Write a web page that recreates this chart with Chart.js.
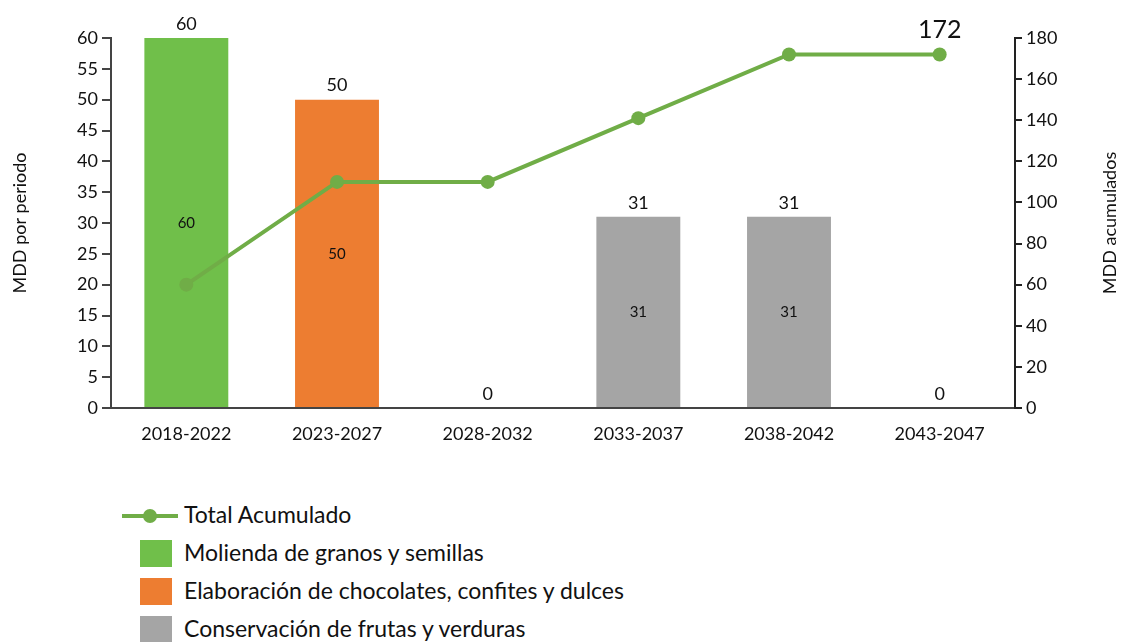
<!DOCTYPE html>
<html>
<head>
<meta charset="utf-8">
<script src="https://cdn.jsdelivr.net/npm/chart.js@4/dist/chart.umd.min.js"></script>
<style>
  html, body { margin: 0; padding: 0; background: #fff; }
  #wrap { position: relative; width: 1127px; height: 642px; font-family: Lato, "Open Sans", sans-serif; }
  #chartBox { position: absolute; left: 0; top: 0; width: 1127px; height: 470px; }
  #legend { position: absolute; left: 0; top: 497px; }
  .item { position: absolute; left: 0; height: 38px; white-space: nowrap; font-size: 23px; color: #111; }
  .item span.txt { position: absolute; left: 184px; top: 3px; }
  .sw { position: absolute; left: 140px; top: 5px; width: 32px; height: 27px; }
  .ln { position: absolute; left: 122px; top: 17px; width: 56px; height: 4px; background: #70AD47; }
  .dot { position: absolute; left: 143px; top: 12px; width: 14px; height: 14px; border-radius: 50%; background: #70AD47; }
</style>
</head>
<body>
<div id="wrap">
  <div id="chartBox"><canvas id="c" width="1127" height="470"></canvas></div>
  <div id="legend"></div>
</div>
<script>
// Periods and investment per sector (MDD)
const periods = ['2018-2022', '2023-2027', '2028-2032', '2033-2037', '2038-2042', '2043-2047'];
const molienda = [60, 0, 0, 0, 0, 0];
const chocolates = [0, 50, 0, 0, 0, 0];
const conservacion = [0, 0, 0, 31, 31, 0];
const acumulado = [60, 110, 110, 141, 172, 172];

const seriesNames = {
  total: 'Total Acumulado',
  molienda: 'Molienda de granos y semillas',
  chocolates: 'Elaboración de chocolates, confites y dulces',
  conservacion: 'Conservación de frutas y verduras'
};
const leftTitle = 'MDD por periodo';
const rightTitle = 'MDD acumulados';

const GREEN = '#70BF4A';
const ORANGE = '#ED7D31';
const GRAY = '#A5A5A5';
const LINE = '#70AD47';
const FONT = 'Lato, "Open Sans", sans-serif';

// Value labels: totals above each column, segment values centred inside,
// the final cumulative value above the last point, and the right axis title
// (rotated to read bottom-to-top like the left one).
const valueLabels = {
  id: 'valueLabels',
  afterDatasetsDraw(chart) {
    const ctx = chart.ctx;
    const y = chart.scales.y;
    const x = chart.scales.x;
    const y1 = chart.scales.y1;
    const barSets = [molienda, chocolates, conservacion];
    ctx.save();
    ctx.textAlign = 'center';
    ctx.fillStyle = '#111';
    periods.forEach((p, i) => {
      const total = barSets.reduce((s, arr) => s + arr[i], 0);
      const cx = x.getPixelForValue(i);
      ctx.font = '18px ' + FONT;
      ctx.textBaseline = 'bottom';
      ctx.fillText(String(total), cx, y.getPixelForValue(total) - 5);
      let base = 0;
      barSets.forEach(arr => {
        const v = arr[i];
        if (v > 0) {
          ctx.font = '15px ' + FONT;
          ctx.textBaseline = 'middle';
          ctx.fillText(String(v), cx, y.getPixelForValue(base + v / 2));
        }
        base += v;
      });
    });
    const last = acumulado.length - 1;
    ctx.font = '25px ' + FONT;
    ctx.textBaseline = 'bottom';
    ctx.fillText(String(acumulado[last]), x.getPixelForValue(last), y1.getPixelForValue(acumulado[last]) - 12);

    ctx.font = '18px ' + FONT;
    ctx.textBaseline = 'middle';
    ctx.translate(1110, (chart.chartArea.top + chart.chartArea.bottom) / 2);
    ctx.rotate(-Math.PI / 2);
    ctx.fillText(rightTitle, 0, 0);
    ctx.restore();
  }
};

new Chart(document.getElementById('c'), {
  type: 'bar',
  data: {
    labels: periods,
    datasets: [
      {
        type: 'line', label: seriesNames.total, data: acumulado, yAxisID: 'y1',
        borderColor: LINE, backgroundColor: LINE, borderWidth: 4,
        pointRadius: 7, pointBackgroundColor: LINE, pointBorderWidth: 0, order: 0
      },
      { label: seriesNames.molienda, data: molienda, backgroundColor: GREEN, stack: 's', order: 1 },
      { label: seriesNames.chocolates, data: chocolates, backgroundColor: ORANGE, stack: 's', order: 1 },
      { label: seriesNames.conservacion, data: conservacion, backgroundColor: GRAY, stack: 's', order: 1 }
    ]
  },
  options: {
    responsive: false,
    animation: false,
    layout: { padding: { top: 38, left: 0, right: 0, bottom: 0 } },
    datasets: { bar: { barPercentage: 0.557, categoryPercentage: 1.0 } },
    plugins: { legend: { display: false }, tooltip: { enabled: false } },
    scales: {
      x: {
        stacked: true,
        grid: { display: false, drawTicks: false },
        border: { color: '#444', width: 2 },
        ticks: { color: '#111', font: { size: 18, family: FONT }, padding: 15 },
        afterFit(s) { s.height = 62; }
      },
      y: {
        stacked: true, min: 0, max: 60,
        position: 'left',
        grid: { drawOnChartArea: false, drawTicks: true, tickLength: 9, color: '#444', lineWidth: 2 },
        border: { color: '#444', width: 2 },
        ticks: { stepSize: 5, color: '#111', font: { size: 18, family: FONT }, padding: 4 },
        title: { display: true, text: leftTitle, color: '#111', font: { size: 18, family: FONT }, padding: { top: 9, bottom: 0 } },
        afterFit(s) { s.width = 111; }
      },
      y1: {
        stacked: false, min: 0, max: 180,
        position: 'right',
        grid: { drawOnChartArea: false, drawTicks: true, tickLength: 7, color: '#222', lineWidth: 2 },
        border: { color: '#222', width: 2 },
        ticks: { stepSize: 20, color: '#111', font: { size: 18, family: FONT }, padding: 4 },
        afterFit(s) { s.width = 112; }
      }
    }
  },
  plugins: [valueLabels]
});

// Legend, stacked vertically under the chart
const legend = document.getElementById('legend');
const entries = [
  { name: seriesNames.total, kind: 'line' },
  { name: seriesNames.molienda, color: GREEN },
  { name: seriesNames.chocolates, color: ORANGE },
  { name: seriesNames.conservacion, color: GRAY }
];
entries.forEach((e, i) => {
  const row = document.createElement('div');
  row.className = 'item';
  row.style.top = (i * 38) + 'px';
  if (e.kind === 'line') {
    row.innerHTML = '<div class="ln"></div><div class="dot"></div>';
  } else {
    row.innerHTML = '<div class="sw" style="background:' + e.color + '"></div>';
  }
  const t = document.createElement('span');
  t.className = 'txt';
  t.textContent = e.name;
  row.appendChild(t);
  legend.appendChild(row);
});
</script>
</body>
</html>
